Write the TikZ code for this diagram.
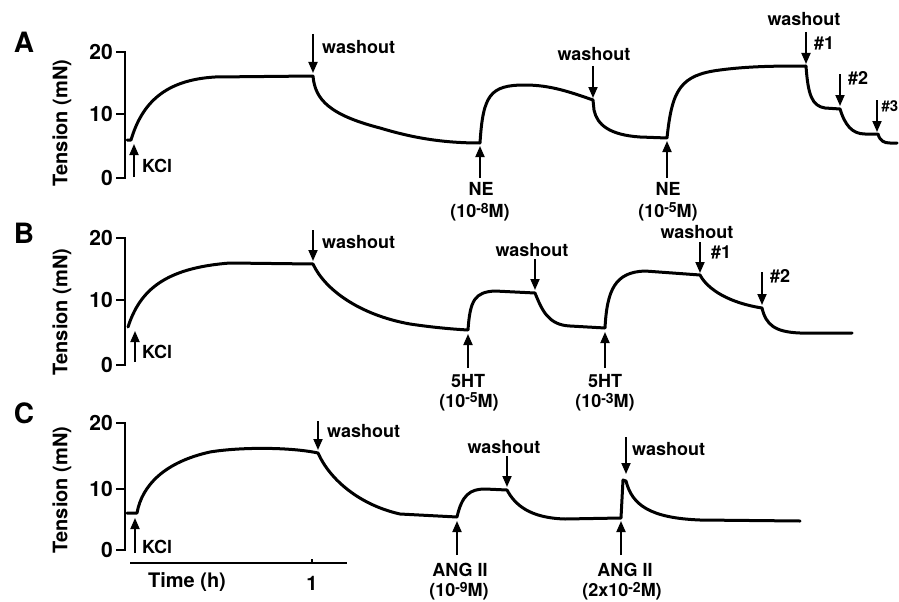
\documentclass[tikz,border=0pt]{standalone}
\usepackage{fontspec}
\setmainfont{TeX Gyre Heros}
\usetikzlibrary{arrows.meta}
\newcommand{\expo}[1]{\raisebox{0.45ex}{\fontsize{14}{14}\selectfont #1}}
\begin{document}
\begin{tikzpicture}[x=1pt,y=-1pt,
  font=\bfseries\fontsize{18}{20}\selectfont,
  trace/.style={line width=3pt, line join=round, line cap=round},
  axisline/.style={line width=2.6pt},
  marker/.style={line width=1.8pt, -{Triangle[length=11pt,width=9pt]}},
  lbl/.style={inner sep=0pt},
  ticklbl/.style={inner sep=0pt, anchor=east, font=\bfseries\fontsize{21}{22}\selectfont},
  timelbl/.style={inner sep=0pt, font=\bfseries\fontsize{20}{22}\selectfont},
  panel/.style={inner sep=0pt, font=\bfseries\fontsize{28}{30}\selectfont},
  ylab/.style={inner sep=0pt, rotate=90, font=\bfseries\fontsize{20}{22}\selectfont}]
\useasboundingbox[fill=white] (0,0) rectangle (899,602);

% ================= Panel A =================
\node[panel] (pA) at (24,42) {A};
\node[ylab] (yA) at (62,123) {Tension (mN)};
\draw[axisline] (116,52) -- (125,52) -- (125,178) -- (116,178);
\draw[axisline] (116,114) -- (125,114);
\node[ticklbl] (tA20) at (113,52) {20};
\node[ticklbl] (tA10) at (113,114) {10};
\node[ticklbl] (tA0) at (113,178) {0};

\draw[trace] (127,140) -- (131,140) .. controls (142,103) and (165,80) .. (215,77) -- (313,76)
  .. controls (315,100) and (330,115) .. (380,128) .. controls (410,137) and (440,143) .. (480,143)
  .. controls (483,95) and (490,85) .. (525,85) .. controls (550,85) and (570,92) .. (593,100)
  -- (594,110) .. controls (597,125) and (610,135) .. (640,137) -- (667,138)
  .. controls (672,90) and (680,75) .. (720,70) .. controls (750,66) and (780,66) .. (806,66)
  .. controls (808,95) and (812,106) .. (825,108) -- (840,109)
  .. controls (845,125) and (852,134) .. (865,134) -- (878,134)
  .. controls (880,141) and (884,143) .. (890,143) -- (897,143);

\coordinate (aK0) at (134,177); \coordinate (aK1) at (134,144);
\draw[marker] (aK0) -- (aK1);
\node[lbl, anchor=west] (kA) at (142,166) {KCl};

\coordinate (aW10) at (313,34); \coordinate (aW11) at (313,73);
\draw[marker] (aW10) -- (aW11);
\node[lbl, anchor=west] (wA1) at (322,47) {washout};

\coordinate (aN10) at (480,178); \coordinate (aN11) at (480,146);
\draw[marker] (aN10) -- (aN11);
\node[lbl] (nA1) at (481,189) {NE};
\node[lbl] (cA1) at (480,212) {(10\expo{-8}M)};

\coordinate (aW20) at (593,66); \coordinate (aW21) at (593,98);
\draw[marker] (aW20) -- (aW21);
\node[lbl] (wA2) at (594,54) {washout};

\coordinate (aN20) at (667,178); \coordinate (aN21) at (667,141);
\draw[marker] (aN20) -- (aN21);
\node[lbl] (nA2) at (668,189) {NE};
\node[lbl] (cA2) at (668,212) {(10\expo{-5}M)};

\coordinate (aH10) at (806,32); \coordinate (aH11) at (806,64);
\draw[marker] (aH10) -- (aH11);
\node[lbl] (wA3) at (804,19) {washout};
\node[lbl] (hA1) at (824,43) {\#1};

\coordinate (aH20) at (840,74); \coordinate (aH21) at (840,106);
\draw[marker] (aH20) -- (aH21);
\node[lbl] (hA2) at (858,78) {\#2};

\coordinate (aH30) at (877,100); \coordinate (aH31) at (877,132);
\draw[marker] (aH30) -- (aH31);
\node[lbl, anchor=east, font=\bfseries\fontsize{15}{16}\selectfont] (hA3) at (898.5,106) {\#3};

% ================= Panel B =================
\node[panel] (pB) at (24,233) {B};
\node[ylab] (yB) at (62,312) {Tension (mN)};
\draw[axisline] (116,238) -- (125,238) -- (125,365) -- (116,365);
\draw[axisline] (116,300) -- (125,300);
\node[ticklbl] (tB20) at (113,238) {20};
\node[ticklbl] (tB10) at (113,300) {10};
\node[ticklbl] (tB0) at (113,365) {0};

\draw[trace] (128,327) .. controls (140,290) and (165,268) .. (230,263) -- (313,264)
  .. controls (325,290) and (360,315) .. (410,324) .. controls (430,327) and (450,329) .. (468,330)
  .. controls (470,300) and (475,292) .. (495,291) -- (535,293)
  .. controls (542,310) and (548,325) .. (570,326) -- (605,328)
  .. controls (607,290) and (615,272) .. (645,271) -- (700,275)
  .. controls (708,290) and (730,303) .. (762,308)
  .. controls (766,325) and (775,332) .. (800,333) -- (852,333);

\coordinate (bK0) at (135,362); \coordinate (bK1) at (135,331);
\draw[marker] (bK0) -- (bK1);
\node[lbl, anchor=west] (kB) at (142,352) {KCl};

\coordinate (bW10) at (313,230); \coordinate (bW11) at (313,261);
\draw[marker] (bW10) -- (bW11);
\node[lbl, anchor=west] (wB1) at (322,242) {washout};

\coordinate (bS10) at (468,368); \coordinate (bS11) at (468,334);
\draw[marker] (bS10) -- (bS11);
\node[lbl] (sB1) at (468,381) {5HT};
\node[lbl] (cB1) at (469,402) {(10\expo{-5}M)};

\coordinate (bW20) at (535,259); \coordinate (bW21) at (535,290);
\draw[marker] (bW20) -- (bW21);
\node[lbl] (wB2) at (532,250) {washout};

\coordinate (bS20) at (605,368); \coordinate (bS21) at (605,332);
\draw[marker] (bS20) -- (bS21);
\node[lbl] (sB2) at (605,381) {5HT};
\node[lbl] (cB2) at (605,402) {(10\expo{-3}M)};

\coordinate (bH10) at (700,242); \coordinate (bH11) at (700,273);
\draw[marker] (bH10) -- (bH11);
\node[lbl] (wB3) at (697,232) {washout};
\node[lbl] (hB1) at (721,252) {\#1};

\coordinate (bH20) at (762,272); \coordinate (bH21) at (762,305);
\draw[marker] (bH20) -- (bH21);
\node[lbl] (hB2) at (780,276) {\#2};

% ================= Panel C =================
\node[panel] (pC) at (24,413) {C};
\node[ylab] (yC) at (62,490) {Tension (mN)};
\draw[axisline] (116,423) -- (125,423) -- (125,550) -- (116,550);
\draw[axisline] (116,489) -- (125,489);
\node[ticklbl] (tC20) at (113,423) {20};
\node[ticklbl] (tC10) at (113,489) {10};
\node[ticklbl] (tC0) at (113,550) {0};

\draw[trace] (127,513) -- (137,513) .. controls (142,485) and (165,462) .. (210,452)
  .. controls (240,447) and (290,447) .. (318,453)
  .. controls (330,480) and (360,505) .. (400,514) -- (457,517)
  .. controls (462,495) and (470,489) .. (485,489) -- (507,490)
  .. controls (515,505) and (530,518) .. (565,519) -- (621,518)
  -- (623,480) -- (626,481) .. controls (632,505) and (650,518) .. (700,520) -- (800,521);

\coordinate (cK0) at (135,553); \coordinate (cK1) at (135,518);
\draw[marker] (cK0) -- (cK1);
\node[lbl, anchor=west] (kC) at (142,547) {KCl};

\coordinate (cW10) at (318,421); \coordinate (cW11) at (318,450);
\draw[marker] (cW10) -- (cW11);
\node[lbl, anchor=west] (wC1) at (327,431) {washout};

\coordinate (cA10) at (457,555); \coordinate (cA11) at (457,521);
\draw[marker] (cA10) -- (cA11);
\node[lbl] (aC1) at (460,570) {ANG II};
\node[lbl] (dC1) at (459,591) {(10\expo{-9}M)};

\coordinate (cW20) at (507,456); \coordinate (cW21) at (507,487);
\draw[marker] (cW20) -- (cW21);
\node[lbl] (wC2) at (504,447) {washout};

\coordinate (cA20) at (621,555); \coordinate (cA21) at (621,521);
\draw[marker] (cA20) -- (cA21);
\node[lbl] (aC2) at (625,570) {ANG II};
\node[lbl] (dC2) at (622,591) {(2x10\expo{-2}M)};

\coordinate (cW30) at (626,437); \coordinate (cW31) at (626,474);
\draw[marker] (cW30) -- (cW31);
\node[lbl, anchor=west] (wC3) at (632,449) {washout};

% time axis
\draw[axisline] (130,563) -- (347,563);
\draw[axisline] (312,563) -- (312,559);
\node[timelbl] (tT) at (187,582) {Time (h)};
\node[timelbl] (tOne) at (312,583) {1};
\end{tikzpicture}
\end{document}
